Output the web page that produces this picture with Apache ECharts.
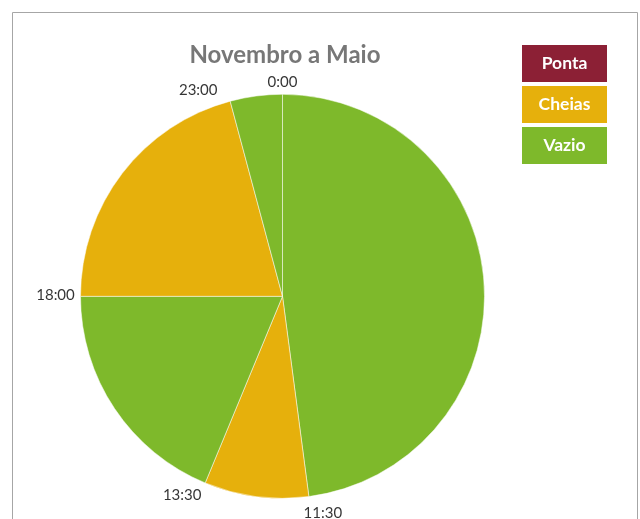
<!DOCTYPE html>
<html>
<head>
<meta charset="utf-8">
<title>Novembro a Maio</title>
<script src="https://cdn.jsdelivr.net/npm/echarts@6/dist/echarts.min.js"></script>
<style>
  html, body { margin: 0; padding: 0; background: #fff; }
  #main { width: 640px; height: 519px; }
</style>
</head>
<body>
<div id="main"></div>
<script>
// periodos do dia (horas), a partir das 0:00, sentido horario
const periodNames = ['Vazio', 'Cheias', 'Vazio', 'Cheias', 'Vazio'];
const periodHours = [11.5, 2, 4.5, 5, 1];
const tariffNames = ['Ponta', 'Cheias', 'Vazio'];
const tariffColors = ['#8C2035', '#E6B00C', '#7EB92B'];

// etiquetas nas fronteiras dos periodos
const boundaryHours = [0, 11.5, 13.5, 18, 23];
const boundaryLabels = ['0:00', '11:30', '13:30', '18:00', '23:00'];
// deslocamento de cada etiqueta em relacao ao ponto na borda (layout)
const labelOffsets = [[0, -12], [14, 17], [-23, 12], [-25, -1.5], [-32, -11]];

const colorOf = name => tariffColors[tariffNames.indexOf(name)];
const center = [282.5, 296.3];
const radius = 202;

const pieData = periodNames.map((n, i) => ({
  name: n,
  value: periodHours[i],
  itemStyle: { color: colorOf(n) }
}));
pieData.push({ name: 'Ponta', value: 0, itemStyle: { color: colorOf('Ponta'), borderWidth: 0 } });

// caixas da legenda: texto branco centrado sobre a cor
const legendRich = {};
tariffNames.forEach((n, i) => {
  legendRich[n] = {
    backgroundColor: tariffColors[i],
    width: 85,
    height: 37,
    lineHeight: 37,
    align: 'center',
    color: '#fff',
    fontFamily: 'Lato',
    fontSize: 17.5,
    fontWeight: 'bold'
  };
});

const chart = echarts.init(document.getElementById('main'));
chart.setOption({
  animation: false,
  backgroundColor: '#fff',
  textStyle: { fontFamily: 'Lato' },
  title: {
    text: 'Novembro a Maio',
    left: 285,
    top: 43,
    padding: 0,
    textAlign: 'center',
    textStyle: { fontFamily: 'Lato', fontSize: 24, fontWeight: 'bold', color: '#777777' }
  },
  legend: {
    orient: 'vertical',
    left: 516,
    top: 45,
    padding: 0,
    itemGap: 4,
    itemWidth: 0,
    itemHeight: 0,
    selectedMode: false,
    data: tariffNames,
    formatter: name => '{' + name + '|' + name + '}',
    textStyle: { rich: legendRich }
  },
  graphic: [{
    type: 'rect',
    silent: true,
    shape: { x: 12.5, y: 12.5, width: 625, height: 540 },
    style: { fill: 'none', stroke: '#A6A6A6', lineWidth: 1 }
  }],
  polar: { center: center, radius: radius },
  angleAxis: {
    type: 'value', min: 0, max: 24, startAngle: 90, clockwise: true, show: false
  },
  radiusAxis: { type: 'value', min: 0, max: 1, show: false },
  series: [
    {
      type: 'pie',
      name: 'Periodos',
      center: center,
      radius: radius,
      startAngle: 90,
      clockwise: true,
      silent: true,
      label: { show: false },
      labelLine: { show: false },
      itemStyle: { borderColor: '#fff', borderWidth: 0.5 },
      data: pieData
    },
    {
      type: 'scatter',
      name: 'Horas',
      coordinateSystem: 'polar',
      symbolSize: 0,
      silent: true,
      label: {
        show: true,
        position: 'inside',
        color: '#000',
        fontFamily: 'Lato',
        fontSize: 15,
        formatter: p => p.name
      },
      data: boundaryHours.map((h, i) => ({
        name: boundaryLabels[i],
        value: [1, h],
        label: { offset: labelOffsets[i] }
      }))
    }
  ]
});
</script>
</body>
</html>
